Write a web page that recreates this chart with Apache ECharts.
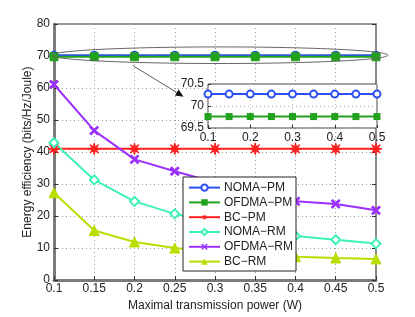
<!DOCTYPE html>
<html>
<head>
<meta charset="utf-8">
<script src="https://cdn.jsdelivr.net/npm/echarts@6/dist/echarts.min.js"></script>
<style>
html,body{margin:0;padding:0;background:#fff;}
#c{width:415px;height:317px;}
</style>
</head>
<body>
<div id="c"></div>
<script>
// ---- data ----
const xValues = [0.1, 0.15, 0.2, 0.25, 0.3, 0.35, 0.4, 0.45, 0.5];
const nomaPM  = [70.27, 70.27, 70.27, 70.27, 70.27, 70.27, 70.27, 70.27, 70.27];
const ofdmaPM = [69.76, 69.76, 69.76, 69.76, 69.76, 69.76, 69.76, 69.76, 69.76];
const bcPM    = [41.0, 41.0, 41.0, 41.0, 41.0, 41.0, 41.0, 41.0, 41.0];
const nomaRM  = [42.9, 31.3, 24.6, 20.7, 17.8, 15.6, 13.8, 12.6, 11.4];
const ofdmaRM = [61.1, 46.7, 37.7, 34.0, 30.5, 27.2, 24.6, 23.8, 21.8];
const bcRM    = [27.3, 15.5, 11.9, 10.0, 8.8, 8.0, 7.3, 6.9, 6.6];
const seriesNames = ['NOMA\u2212PM', 'OFDMA\u2212PM', 'BC\u2212PM', 'NOMA\u2212RM', 'OFDMA\u2212RM', 'BC\u2212RM'];
const xAxisTitle = 'Maximal transmission power (W)';
const yAxisTitle = 'Energy efficiency (bits/Hz/Joule)';

const pairs = arr => arr.map((v, i) => [xValues[i], v]);
const FONT = 'Liberation Sans';
const colors = ['#2a4ff5', '#22a21c', '#ff1f1f', '#3ef3b2', '#9b30ff', '#bade00'];

// asterisk-like star
function starPath() {
  let d = '';
  const n = 8;
  for (let i = 0; i < 2 * n; i++) {
    const r = i % 2 === 0 ? 1 : 0.4;
    const a = Math.PI * i / n - Math.PI / 2;
    d += (i === 0 ? 'M' : 'L') + (r * Math.cos(a)).toFixed(3) + ',' + (r * Math.sin(a)).toFixed(3) + ' ';
  }
  return 'path://' + d + 'Z';
}
const xPath = 'path://M0,0.16 L0.16,0 L0.5,0.34 L0.84,0 L1,0.16 L0.66,0.5 L1,0.84 L0.84,1 L0.5,0.66 L0.16,1 L0,0.84 L0.34,0.5 Z';

const chart = echarts.init(document.getElementById('c'), null, {renderer: 'canvas'});

const mainLine = (name, data, color, symbol, size, extra) => Object.assign({
  name, type: 'line', data: pairs(data), xAxisIndex: 0, yAxisIndex: 0,
  symbol, symbolSize: size, color,
  lineStyle: {width: 2, color},
  itemStyle: {color, borderColor: color},
  z: 3, animation: false
}, extra || {});

const dotted = {show: true, lineStyle: {type: [1, 3], color: '#9a9a9a', width: 1}};

const option = {
  animation: false,
  textStyle: {fontFamily: FONT},
  grid: [
    {left: 54, right: 39, top: 24, bottom: 34, show: true, borderColor: '#333', borderWidth: 1, backgroundColor: '#fff', z: 0},
    {left: 208, right: 38, top: 84, bottom: 189, show: true, borderColor: '#444', borderWidth: 1, backgroundColor: '#fff', z: 5}
  ],
  xAxis: [
    {
      type: 'value', gridIndex: 0, min: 0.1, max: 0.5, interval: 0.05,
      name: xAxisTitle, nameLocation: 'middle', nameGap: 18,
      nameTextStyle: {fontFamily: FONT, fontSize: 12, color: '#222'},
      axisLine: {show: true, lineStyle: {color: '#7a7a7a', width: 3}},
      axisTick: {show: true, inside: true, length: 4, lineStyle: {color: '#333'}},
      axisLabel: {fontFamily: FONT, fontSize: 12, color: '#222', margin: 3,
        formatter: v => String(+v.toFixed(2))},
      splitLine: dotted
    },
    {
      type: 'value', gridIndex: 1, min: 0.1, max: 0.5, interval: 0.1, z: 6,
      axisLine: {show: false},
      axisTick: {show: true, inside: true, length: 3, lineStyle: {color: '#333'}},
      axisLabel: {fontFamily: FONT, fontSize: 12, color: '#222', margin: 4,
        formatter: v => String(+v.toFixed(1))},
      splitLine: {show: true, lineStyle: {type: [1, 3], color: '#bbb', width: 1}}
    }
  ],
  yAxis: [
    {
      type: 'value', gridIndex: 0, min: 0, max: 80, interval: 10,
      name: yAxisTitle, nameLocation: 'middle', nameGap: 20, nameRotate: 90,
      nameMoveOverlap: false,
      nameTextStyle: {fontFamily: FONT, fontSize: 12, color: '#222'},
      axisLine: {show: true, lineStyle: {color: '#7a7a7a', width: 3}},
      axisTick: {show: true, inside: true, length: 4, lineStyle: {color: '#333'}},
      axisLabel: {fontFamily: FONT, fontSize: 12, color: '#222', margin: 4},
      splitLine: dotted
    },
    {
      type: 'value', gridIndex: 0, position: 'right', min: 0, max: 80, interval: 10,
      axisLine: {show: true, lineStyle: {color: '#8a8a8a', width: 2}},
      axisTick: {show: true, inside: true, length: 4, lineStyle: {color: '#333'}},
      axisLabel: {show: false}, splitLine: {show: false}
    },
    {
      type: 'value', gridIndex: 1, min: 69.5, max: 70.5, interval: 0.5, z: 6,
      axisLine: {show: false},
      axisTick: {show: true, inside: true, length: 3, lineStyle: {color: '#333'}},
      axisLabel: {fontFamily: FONT, fontSize: 12, color: '#222', margin: 4,
        formatter: v => String(+v.toFixed(1))},
      splitLine: {show: true, lineStyle: {type: [1, 3], color: '#aaa', width: 1}}
    }
  ],
  legend: {
    data: seriesNames,
    orient: 'vertical', left: 183, top: 177,
    itemWidth: 31, itemHeight: 8, itemGap: 2.8,
    padding: [4.6, 3, 3.4, 5],
    backgroundColor: '#fff', borderColor: '#222', borderWidth: 1,
    textStyle: {fontFamily: FONT, fontSize: 12, lineHeight: 12, color: '#222', padding: [0, 0, 0, -1]},
    z: 20
  },
  series: [
    mainLine(seriesNames[0], nomaPM, colors[0], 'emptyCircle', 7, {itemStyle: {color: colors[0], borderColor: colors[0], borderWidth: 2}}),
    mainLine(seriesNames[1], ofdmaPM, colors[1], 'rect', 8),
    mainLine(seriesNames[2], bcPM, colors[2], starPath(), 12),
    mainLine(seriesNames[3], nomaRM, colors[3], 'emptyDiamond', 9, {itemStyle: {color: colors[3], borderColor: colors[3], borderWidth: 1.5}}),
    mainLine(seriesNames[4], ofdmaRM, colors[4], xPath, 9),
    mainLine(seriesNames[5], bcRM, colors[5], 'triangle', 10),
    {
      name: seriesNames[0], type: 'line', xAxisIndex: 1, yAxisIndex: 2, data: pairs(nomaPM),
      symbol: 'emptyCircle', symbolSize: 7, lineStyle: {width: 2, color: colors[0]},
      itemStyle: {color: colors[0], borderColor: colors[0], borderWidth: 2}, z: 8
    },
    {
      name: seriesNames[1], type: 'line', xAxisIndex: 1, yAxisIndex: 2, data: pairs(ofdmaPM),
      symbol: 'rect', symbolSize: 7, lineStyle: {width: 2, color: colors[1]},
      itemStyle: {color: colors[1]}, z: 8
    }
  ]
};
chart.setOption(option);

// annotation: ellipse around the PM curves and an arrow to the zoomed inset
const c0 = chart.convertToPixel({gridIndex: 0}, [0.306, 70.25]);
const a0 = chart.convertToPixel({gridIndex: 0}, [0.198, 67.0]);
const a1 = chart.convertToPixel({gridIndex: 0}, [0.261, 57.3]);
const ang = Math.atan2(a1[1] - a0[1], a1[0] - a0[0]);
const hl = 8, hw = 3.5;
const tip = a1;
const base = [tip[0] - hl * Math.cos(ang), tip[1] - hl * Math.sin(ang)];
const left = [base[0] + hw * Math.sin(ang), base[1] - hw * Math.cos(ang)];
const right = [base[0] - hw * Math.sin(ang), base[1] + hw * Math.cos(ang)];
chart.setOption({
  graphic: [
    {type: 'ellipse', shape: {cx: c0[0], cy: c0[1], rx: 168, ry: 8.3},
      style: {fill: null, stroke: '#666', lineWidth: 1}, z: 10},
    {type: 'line', shape: {x1: a0[0], y1: a0[1], x2: base[0], y2: base[1]},
      style: {stroke: '#333', lineWidth: 0.8}, z: 10},
    {type: 'polygon', shape: {points: [tip, left, right]},
      style: {fill: '#111'}, z: 10}
  ]
});
</script>
</body>
</html>
